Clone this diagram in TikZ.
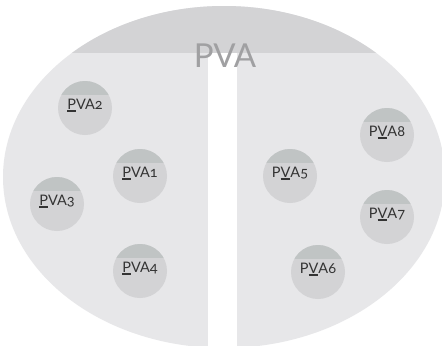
\documentclass[tikz,border=0pt]{standalone}
\usepackage{fontspec}
\setmainfont[Numbers=OldStyle]{Lato}
\definecolor{bodycol}{HTML}{E7E7E9}
\definecolor{bandcol}{HTML}{D3D3D5}
\definecolor{circcol}{HTML}{D3D3D5}
\definecolor{capcol}{HTML}{C0C4C4}
\definecolor{titlecol}{HTML}{A0A0A2}
\definecolor{labcol}{HTML}{333333}
\newcommand\ulet[1]{\setbox0\hbox{#1}\makebox[0pt][l]{\rule[-2.6pt]{\wd0}{1.2pt}}\box0}
\begin{document}
\begin{tikzpicture}[x=1pt,y=-1pt,
  pvacirc/.style={circle, minimum size=54pt, inner sep=0pt, fill=circcol,
    path picture={\fill[capcol] (path picture bounding box.north west) rectangle ([yshift=-14pt]path picture bounding box.north east);}},
  lbl/.style={anchor=base, inner sep=0pt, text=labcol, font=\fontsize{14.5}{14.5}\selectfont},
  title/.style={text=titlecol, font=\fontsize{33}{33}\selectfont, inner sep=0pt, anchor=base}]
\useasboundingbox (0,0) rectangle (442,346);
\fill[white] (0,0) rectangle (442,346);
\begin{scope}
  \clip (224,177) ellipse [x radius=221, y radius=171];
  \fill[bodycol] (0,0) rectangle (442,346);
  \fill[bandcol] (0,0) rectangle (442,53);
\end{scope}
\fill[white] (208,53) rectangle (237,346);
\node[title] (pva) at (225,67) {PVA};
% left group
\node[pvacirc] (c1) at (140,176) {};
\node[pvacirc] (c2) at (85,108) {};
\node[pvacirc] (c3) at (57,204) {};
\node[pvacirc] (c4) at (140,271) {};
% right group
\node[pvacirc] (c5) at (290,176) {};
\node[pvacirc] (c6) at (318,272) {};
\node[pvacirc] (c7) at (387,217) {};
\node[pvacirc] (c8) at (387,135) {};
\node[lbl] (t1) at ([yshift=-1pt]c1.center) {\ulet{P}VA1};
\node[lbl] (t2) at ([yshift=-1pt]c2.center) {\ulet{P}VA2};
\node[lbl] (t3) at ([yshift=-1pt]c3.center) {\ulet{P}VA3};
\node[lbl] (t4) at ([yshift=-1pt]c4.center) {\ulet{P}VA4};
\node[lbl] (t5) at ([yshift=-1pt]c5.center) {P\ulet{V}A5};
\node[lbl] (t6) at ([yshift=-1pt]c6.center) {P\ulet{V}A6};
\node[lbl] (t7) at ([yshift=-1pt]c7.center) {P\ulet{V}A7};
\node[lbl] (t8) at ([yshift=-1pt]c8.center) {P\ulet{V}A8};
\end{tikzpicture}
\end{document}
